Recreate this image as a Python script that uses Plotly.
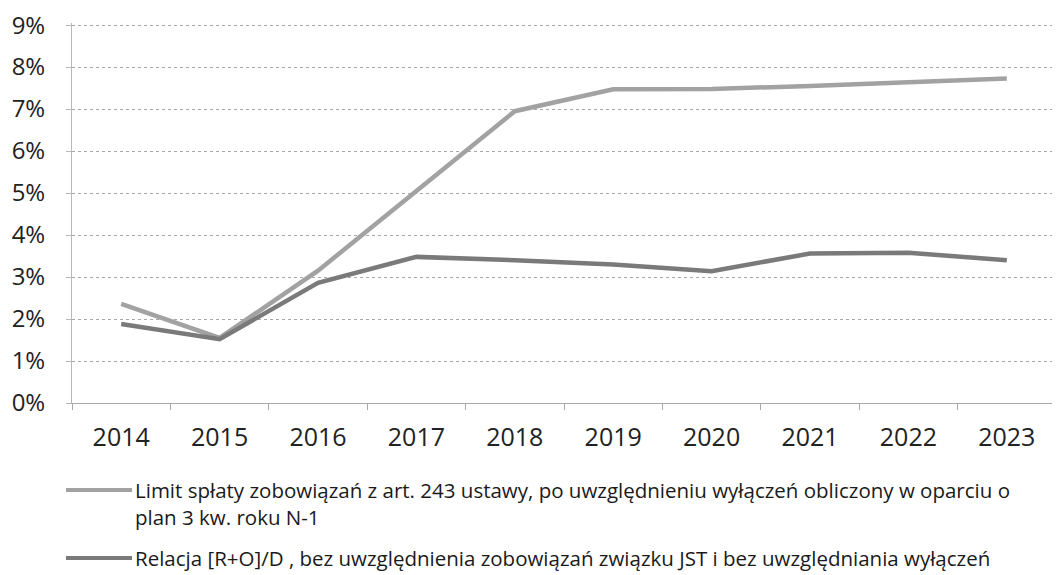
import plotly.graph_objects as go

years = ["2014", "2015", "2016", "2017", "2018", "2019", "2020", "2021", "2022", "2023"]
limit_values = [2.36, 1.55, 3.15, 5.05, 6.95, 7.47, 7.48, 7.55, 7.64, 7.73]
relacja_values = [1.88, 1.52, 2.86, 3.48, 3.40, 3.30, 3.14, 3.56, 3.58, 3.40]
y_ticks = [0, 1, 2, 3, 4, 5, 6, 7, 8, 9]
y_tick_labels = [f"{v}%" for v in y_ticks]

limit_name = "Limit spłaty zobowiązań z art. 243 ustawy, po uwzględnieniu wyłączeń obliczony w oparciu o<br>plan 3 kw. roku N-1"
relacja_name = "Relacja [R+O]/D , bez uwzględnienia zobowiązań związku JST i bez uwzględniania wyłączeń"

LIGHT = "#a2a2a2"
DARK = "#7a7a7a"
FONT = "Open Sans, DejaVu Sans, sans-serif"

W, H = 1052, 567
L, T, R, B = 64, 15, 4, 172
PW, PH = W - L - R, H - T - B


def px_to_paper_x(xs):
    return (xs - 8 - L) / PW


def px_to_paper_y(ys):
    return (H - B - (ys - 8)) / PH


fig = go.Figure()
fig.add_trace(go.Scatter(x=years, y=limit_values, mode="lines",
                         line=dict(color=LIGHT, width=4.5), name=limit_name, showlegend=False))
fig.add_trace(go.Scatter(x=years, y=relacja_values, mode="lines",
                         line=dict(color=DARK, width=4.5), name=relacja_name, showlegend=False))

fig.update_layout(
    width=W, height=H,
    margin=dict(l=L, r=R, t=T, b=B),
    paper_bgcolor="white", plot_bgcolor="white",
    font=dict(family=FONT, color="#222"),
)
fig.update_yaxes(
    range=[0, 9.05], tickvals=y_ticks, ticktext=y_tick_labels,
    showgrid=True, gridcolor="#a8a8a8", griddash="dot", gridwidth=1,
    showline=True, linecolor="#b8b8b8", linewidth=1,
    ticks="outside", ticklen=5, tickcolor="#b8b8b8",
    tickfont=dict(family=FONT, size=24, color="#222"),
    ticklabelstandoff=16, ticklabeloverflow="allow", automargin=False,
    zeroline=False, fixedrange=True,
)
fig.update_xaxes(
    type="category", range=[-0.5, 9.5],
    showgrid=False, showline=True, linecolor="#a8a8a8", linewidth=1,
    ticks="outside", ticklen=6, tickcolor="#a8a8a8", tickson="boundaries",
    tickfont=dict(family=FONT, size=25, color="#222"),
    ticklabelstandoff=12, automargin=False, fixedrange=True,
)

legend_items = [(LIGHT, limit_name, 490, 503.5), (DARK, relacja_name, 558, 558)]
for color, name, y_swatch, y_text in legend_items:
    fig.add_shape(type="line", xref="paper", yref="paper",
                  x0=px_to_paper_x(66), x1=px_to_paper_x(132),
                  y0=px_to_paper_y(y_swatch), y1=px_to_paper_y(y_swatch),
                  line=dict(color=color, width=4))
    fig.add_annotation(xref="paper", yref="paper",
                       x=px_to_paper_x(133), y=px_to_paper_y(y_text),
                       xanchor="left", yanchor="middle", align="left",
                       text=name, showarrow=False,
                       font=dict(family=FONT, size=20.5, color="#1a1a1a"))

fig.write_html("out.html")
